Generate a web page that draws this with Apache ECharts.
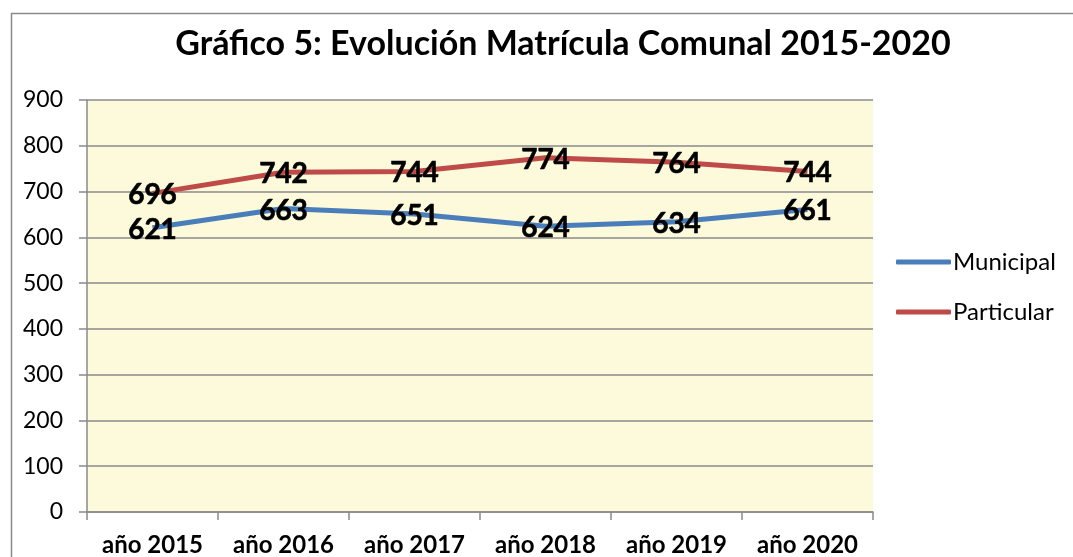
<!DOCTYPE html>
<html>
<head>
<meta charset="utf-8">
<script src="https://cdn.jsdelivr.net/npm/echarts@6/dist/echarts.min.js"></script>
<style>
html,body{margin:0;padding:0;background:#fff;}
#chart{width:1073px;height:557px;}
</style>
</head>
<body>
<div id="chart"></div>
<script>
var categories = ['año 2015', 'año 2016', 'año 2017', 'año 2018', 'año 2019', 'año 2020'];
var municipal = [621, 663, 651, 624, 634, 661];
var particular = [696, 742, 744, 774, 764, 744];
var yTicks = [0, 100, 200, 300, 400, 500, 600, 700, 800, 900];
var titleText = 'Gráfico 5: Evolución Matrícula Comunal 2015-2020';

var FONT = 'Lato';
var chart = echarts.init(document.getElementById('chart'), null, {renderer: 'canvas'});
var labelStyle = {
  show: true,
  position: 'inside',
  offset: [0, 2],
  fontFamily: FONT,
  fontWeight: 'bold',
  fontSize: 28,
  color: '#000',
  textBorderColor: '#000',
  textBorderWidth: 0.6
};
chart.setOption({
  animation: false,
  backgroundColor: '#fff',
  graphic: [{
    type: 'rect',
    left: 9, top: 11,
    shape: {x: 0, y: 0, width: 1200, height: 700},
    style: {fill: 'none', stroke: '#8a8a8a', lineWidth: 1.5},
    silent: true, z: -1
  }],
  title: {
    text: titleText,
    left: 558, top: 22,
    textAlign: 'center',
    textStyle: {fontFamily: FONT, fontWeight: 'bold', fontSize: 34, color: '#000'}
  },
  legend: {
    orient: 'vertical',
    left: 891, top: 245,
    itemWidth: 55, itemHeight: 5,
    itemGap: 26,
    icon: 'roundRect',
    textStyle: {fontFamily: FONT, fontSize: 24, color: '#000', padding: [0, 0, 0, -3]},
    data: ['Municipal', 'Particular']
  },
  grid: {
    left: 87, right: 200, top: 100, bottom: 44,
    show: true, backgroundColor: '#FDF9DB', borderWidth: 0
  },
  xAxis: {
    type: 'category',
    data: categories,
    boundaryGap: true,
    axisLine: {lineStyle: {color: '#8a8a8a', width: 1.5}},
    axisTick: {show: true, length: 8, alignWithLabel: false, lineStyle: {color: '#8a8a8a', width: 1.5}},
    axisLabel: {fontFamily: FONT, fontWeight: 'bold', fontSize: 24, color: '#000', margin: 21, interval: 0}
  },
  yAxis: {
    type: 'value',
    min: 0, max: 900, interval: 100,
    axisLine: {show: true, lineStyle: {color: '#8a8a8a', width: 1.5}},
    axisTick: {show: true, length: 8, lineStyle: {color: '#8a8a8a', width: 1.5}},
    splitLine: {show: true, lineStyle: {color: '#8a8a8a', width: 1.5}},
    axisLabel: {
      fontFamily: FONT, fontSize: 23, color: '#000', margin: 24,
      formatter: function (v) { return yTicks.indexOf(v) >= 0 ? String(v) : ''; }
    }
  },
  series: [
    {
      name: 'Municipal', type: 'line', data: municipal,
      symbol: 'circle', symbolSize: 0, showSymbol: true,
      lineStyle: {color: '#4A7EBB', width: 5},
      itemStyle: {color: '#4A7EBB'},
      label: labelStyle
    },
    {
      name: 'Particular', type: 'line', data: particular,
      symbol: 'circle', symbolSize: 0, showSymbol: true,
      lineStyle: {color: '#BE4B48', width: 5},
      itemStyle: {color: '#BE4B48'},
      label: labelStyle
    }
  ]
});
</script>
</body>
</html>
